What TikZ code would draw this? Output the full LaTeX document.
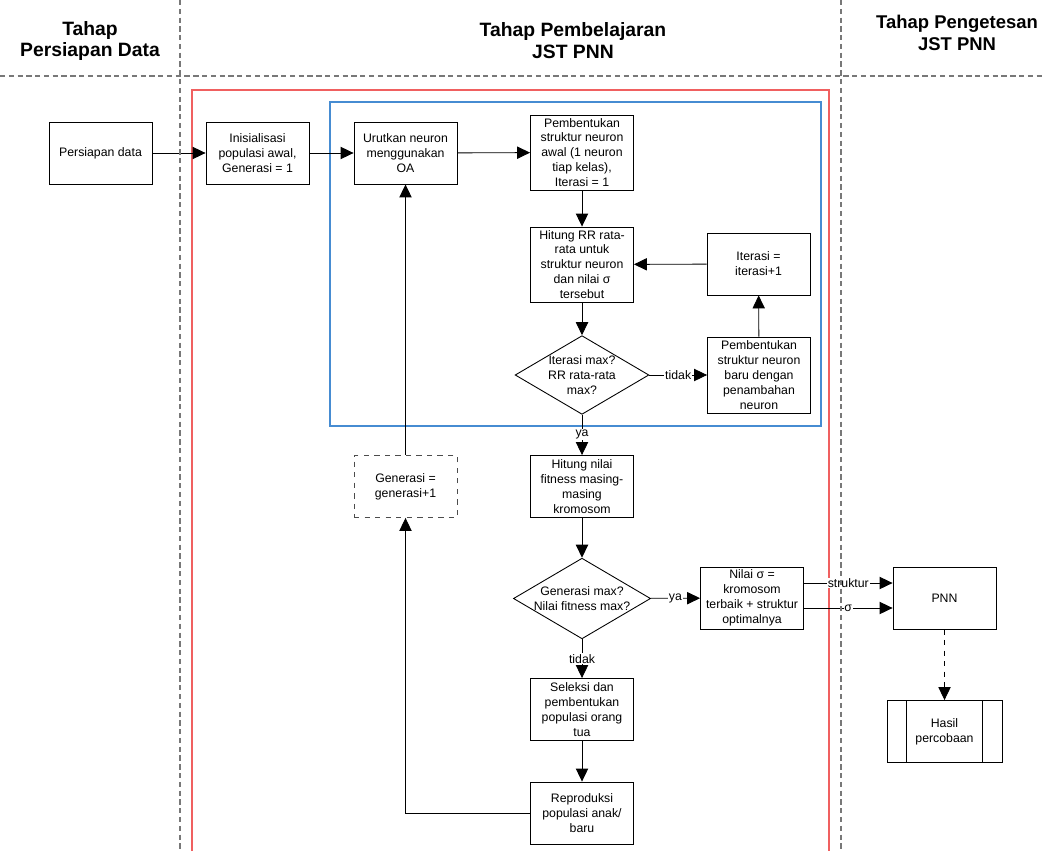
\documentclass[tikz,border=0pt]{standalone}
\usepackage{fontspec}
\setmainfont{Liberation Sans}
\usepackage{tikz}
\usetikzlibrary{shapes.geometric,arrows.meta}
\definecolor{lane_gray}{RGB}{120, 120, 120}
\definecolor{ga_red}{RGB}{240, 96, 96}
\definecolor{pnn_blue}{RGB}{70, 140, 210}
\tikzstyle{box}=[rectangle,draw=black,line width=0.5pt,align=center,
  font=\fontsize{7}{8.5}\selectfont,minimum width=2.06cm,minimum height=1.24cm,inner sep=1pt]
\tikzstyle{dbox}=[box,draw=black!70,dashed]
\tikzstyle{cek}=[diamond,draw=black,line width=0.5pt,align=center,aspect=1.7,
  font=\fontsize{7}{8.5}\selectfont,minimum width=2.56cm,minimum height=1.53cm,inner sep=0pt]
\tikzstyle{arr}=[line width=0.5pt,-{Triangle[length=7.4pt,width=7pt]}]
\tikzstyle{lbl}=[fill=white,inner sep=0.5pt,font=\fontsize{7}{8.5}\selectfont]
\tikzstyle{head}=[align=center,font=\fontsize{11}{12.5}\selectfont\bfseries]
\tikzstyle{lane}=[draw=lane_gray,dashed,line width=0.8pt,dash pattern=on 3pt off 2pt]

\begin{document}
\begin{tikzpicture}[x=0.02cm,y=-0.02cm]
    \useasboundingbox (0,0) rectangle (1043,851);
    % lajur tahap
    \node [style=head] (h1) at (90,41) {Tahap\\Persiapan Data};
    \node [style=head] (h2) at (573,41) {Tahap Pembelajaran\\JST PNN};
    \node [style=head,font=\fontsize{10.5}{12.5}\selectfont\bfseries] (h3) at (957,33) {Tahap Pengetesan\\JST PNN};
    \draw [ga_red,line width=0.8pt] (192,851) -- (192,90) -- (829,90) -- (829,851);
    \draw [pnn_blue,line width=0.9pt] (330,102) rectangle (821,426);
    % node
    \node [style=box] (data) at (100.5,153) {Persiapan data};
    \node [style=box] (init) at (257.5,153) {Inisialisasi\\populasi awal,\\Generasi = 1};
    \node [style=box] (urut) at (405.5,153) {Urutkan neuron\\menggunakan\\OA};
    \node [style=box,minimum height=1.5cm] (awal) at (582,152.5) {Pembentukan\\struktur neuron\\awal (1 neuron\\tiap kelas),\\Iterasi = 1};
    \node [style=box,minimum height=1.5cm] (hitrr) at (582,264.5) {Hitung RR rata-\\rata untuk\\struktur neuron\\dan nilai σ\\tersebut};
    \node [style=box] (iter) at (758.5,264) {Iterasi =\\iterasi+1};
    \node [style=cek] (cek1) at (582,375) {Iterasi max?\\RR rata-rata\\max?};
    \node [style=box,minimum height=1.52cm] (baru) at (759,375) {Pembentukan\\struktur neuron\\baru dengan\\penambahan\\neuron};
    \node [style=box] (fit) at (582,486.5) {Hitung nilai\\fitness masing-\\masing\\kromosom};
    \node [style=dbox] (gen) at (405.5,486.5) {Generasi =\\generasi+1};
    \node [style=cek] (cek2) at (582,598.5) {Generasi max?\\Nilai fitness max?};
    \node [style=box] (nilai) at (752,598) {Nilai σ =\\kromosom\\terbaik + struktur\\optimalnya};
    \node [style=box] (sel) at (582,709.5) {Seleksi dan\\pembentukan\\populasi orang\\tua};
    \node [style=box] (repro) at (582,813) {Reproduksi\\populasi anak/\\baru};
    \node [style=box] (pnn) at (944.5,598) {PNN};
    \node [style=box,minimum width=2.3cm] (hasil) at (944.5,731.5) {Hasil\\percobaan};
    \draw [line width=0.5pt] ([xshift=0.4cm]hasil.north west) -- ([xshift=0.4cm]hasil.south west);
    \draw [line width=0.5pt] ([xshift=-0.4cm]hasil.north east) -- ([xshift=-0.4cm]hasil.south east);
    \coordinate (balik) at (405.5,813);
    % panah
    \draw [style=arr] (data) to (init);
    \draw [style=arr] (init) to (urut);
    \draw [style=arr] (urut) to (awal);
    \draw [style=arr] (awal) to (hitrr);
    \draw [style=arr] (hitrr) to (cek1);
    \draw [style=arr] (cek1) to node [style=lbl] {tidak} (baru);
    \draw [style=arr] (baru) to (iter);
    \draw [style=arr] (iter) to (hitrr);
    \draw [style=arr] (cek1) to node [style=lbl] {ya} (fit);
    \draw [style=arr] (fit) to (cek2);
    \draw [style=arr] (cek2) to node [style=lbl] {ya} (nilai);
    \draw [style=arr] (cek2) to node [style=lbl] {tidak} (sel);
    \draw [style=arr] (sel) to (repro);
    \draw [style=arr] (repro.west) -- (balik) -- (gen.south);
    \draw [style=arr] (gen) to (urut);
    \draw [style=arr] ([yshift=0.3cm]nilai.east) to node [style=lbl] {struktur} ([yshift=0.3cm]pnn.west);
    \draw [style=arr] ([yshift=-0.2cm]nilai.east) to node [style=lbl] {σ} ([yshift=-0.2cm]pnn.west);
    \draw [style=arr,dashed] (pnn) to (hasil);
    % garis lajur
    \draw [style=lane] (0,76) -- (1043,76);
    \draw [style=lane] (180,0) -- (180,851);
    \draw [style=lane] (841,0) -- (841,851);
\end{tikzpicture}
\end{document}
